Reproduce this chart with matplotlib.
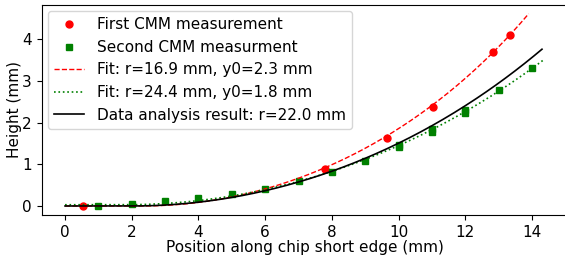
import numpy as np
import matplotlib
matplotlib.use("Agg")
import matplotlib.pyplot as plt

# First CMM measurement
x1 = [0.55, 7.8, 9.66, 11.02, 12.83, 13.34]
y1 = [0.0, 0.89, 1.64, 2.38, 3.69, 4.11]
# Second CMM measurement
x2 = [1, 2, 3, 4, 5, 6, 7, 8, 9, 10, 10, 11, 11, 12, 12, 13, 14]
y2 = [0.01, 0.04, 0.11, 0.18, 0.28, 0.40, 0.60, 0.82, 1.09, 1.41, 1.47, 1.78, 1.85, 2.23, 2.31, 2.78, 3.32]

# Fit parameters (radius, centre position, offset, x-range end)
fit1 = dict(r=16.9, x0=2.3, c=0.0, xend=13.9)
fit2 = dict(r=24.4, x0=1.8, c=0.03, xend=14.36)
fit3 = dict(r=22.0, x0=2.0, c=0.0, xend=14.3)


def circle(p):
    x = np.linspace(0, p["xend"], 300)
    d = np.clip(x - p["x0"], 0, None)
    return x, p["r"] - np.sqrt(p["r"] ** 2 - d ** 2) + p["c"]


fs = 11
fig = plt.figure(figsize=(5.65, 2.6), dpi=100)
ax = fig.add_axes([41.7 / 565, 45 / 260, (568 - 41.7) / 565, (215 - 5) / 260])

ax.plot(x1, y1, "o", color="red", ms=5, label="First CMM measurement")
ax.plot(x2, y2, "s", color="green", ms=5, label="Second CMM measurment")
fx, fy = circle(fit1)
ax.plot(fx, fy, "--", color="red", lw=1, label="Fit: r=16.9 mm, y0=2.3 mm")
fx, fy = circle(fit2)
ax.plot(fx, fy, ":", color="green", lw=1.2, label="Fit: r=24.4 mm, y0=1.8 mm")
fx, fy = circle(fit3)
ax.plot(fx, fy, "-", color="black", lw=1.2, label="Data analysis result: r=22.0 mm")

ax.set_xlim(-0.70, 15.08)
ax.set_ylim(-0.216, 4.82)
ax.set_xticks([0, 2, 4, 6, 8, 10, 12, 14])
ax.set_yticks([0, 1, 2, 3, 4])
ax.tick_params(labelsize=fs)
ax.set_xlabel("Position along chip short edge (mm)", fontsize=fs, labelpad=0)
ax.set_ylabel("Height (mm)", fontsize=fs, labelpad=0.5)
ax.legend(loc="upper left", fontsize=fs, borderaxespad=0.4)

fig.savefig("out.png", dpi=100)
